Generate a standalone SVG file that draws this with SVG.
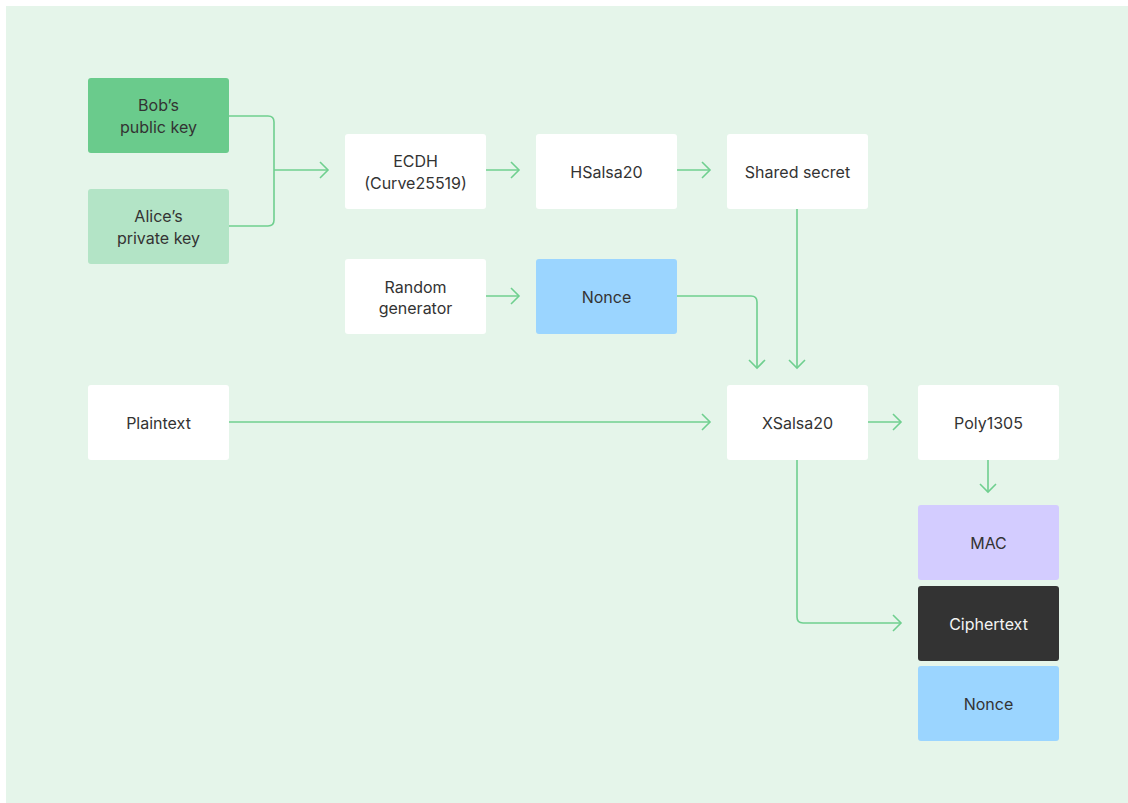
<svg xmlns="http://www.w3.org/2000/svg" width="1128" height="803" viewBox="0 0 1128 803">
<defs>
<style>
.n{fill:#ffffff}
.t{font-family:Inter,"Liberation Sans",sans-serif;font-size:16px;fill:#333333;text-anchor:middle;dominant-baseline:central}
.w{fill:#f4f4f4}
.c{fill:none;stroke:#6fcf8f;stroke-width:1.6}
</style>
<marker id="a" viewBox="0 0 12 20" refX="10" refY="10" markerWidth="12" markerHeight="20" markerUnits="userSpaceOnUse" orient="auto">
<path d="M2,2 L10,10 L2,18" fill="none" stroke="#6fcf8f" stroke-width="1.6"/>
</marker>
</defs>
<rect x="0" y="0" width="1128" height="803" fill="#ffffff"/>
<rect x="6" y="6" width="1122" height="797" fill="#e5f5ea"/>
<g id="connectors">
<path class="c" d="M229,116 H268 Q274,116 274,122 V220 Q274,226 268,226 H229"/>
<path class="c" d="M274,170 H328" marker-end="url(#a)"/>
<path class="c" d="M486,170 H519" marker-end="url(#a)"/>
<path class="c" d="M677,170 H710" marker-end="url(#a)"/>
<path class="c" d="M486,296 H519" marker-end="url(#a)"/>
<path class="c" d="M677,296 H751 Q757,296 757,302 V368" marker-end="url(#a)"/>
<path class="c" d="M797,209 V368" marker-end="url(#a)"/>
<path class="c" d="M229,422 H710" marker-end="url(#a)"/>
<path class="c" d="M868,422 H901" marker-end="url(#a)"/>
<path class="c" d="M988,460 V492" marker-end="url(#a)"/>
<path class="c" d="M797,460 V617 Q797,623 803,623 H901" marker-end="url(#a)"/>
</g>
<g id="bob"><rect x="88" y="78" width="141" height="75" rx="3" fill="#6acb8c"/><text class="t" x="158.5" y="105">Bob’s</text><text class="t" x="158.5" y="127">public key</text></g>
<g id="alice"><rect x="88" y="189" width="141" height="75" rx="3" fill="#b3e4c6"/><text class="t" x="158.5" y="216">Alice’s</text><text class="t" x="158.5" y="238">private key</text></g>
<g id="ecdh"><rect class="n" x="345" y="134" width="141" height="75" rx="3"/><text class="t" x="415.5" y="161">ECDH</text><text class="t" x="415.5" y="183">(Curve25519)</text></g>
<g id="hsalsa"><rect class="n" x="536" y="134" width="141" height="75" rx="3"/><text class="t" x="606.5" y="172">HSalsa20</text></g>
<g id="shared"><rect class="n" x="727" y="134" width="141" height="75" rx="3"/><text class="t" x="797.5" y="172">Shared secret</text></g>
<g id="random"><rect class="n" x="345" y="259" width="141" height="75" rx="3"/><text class="t" x="415.5" y="287">Random</text><text class="t" x="415.5" y="308">generator</text></g>
<g id="nonce1"><rect x="536" y="259" width="141" height="75" rx="3" fill="#9bd5ff"/><text class="t" x="606.5" y="297">Nonce</text></g>
<g id="plaintext"><rect class="n" x="88" y="385" width="141" height="75" rx="3"/><text class="t" x="158.5" y="423">Plaintext</text></g>
<g id="xsalsa"><rect class="n" x="727" y="385" width="141" height="75" rx="3"/><text class="t" x="797.5" y="423">XSalsa20</text></g>
<g id="poly"><rect class="n" x="918" y="385" width="141" height="75" rx="3"/><text class="t" x="988.5" y="423">Poly1305</text></g>
<g id="mac"><rect x="918" y="505" width="141" height="75" rx="3" fill="#d3ccff"/><text class="t" x="988.5" y="543">MAC</text></g>
<g id="ciphertext"><rect x="918" y="586" width="141" height="75" rx="3" fill="#333333"/><text class="t w" x="988.5" y="624">Ciphertext</text></g>
<g id="nonce2"><rect x="918" y="666" width="141" height="75" rx="3" fill="#9bd5ff"/><text class="t" x="988.5" y="704">Nonce</text></g>
</svg>
